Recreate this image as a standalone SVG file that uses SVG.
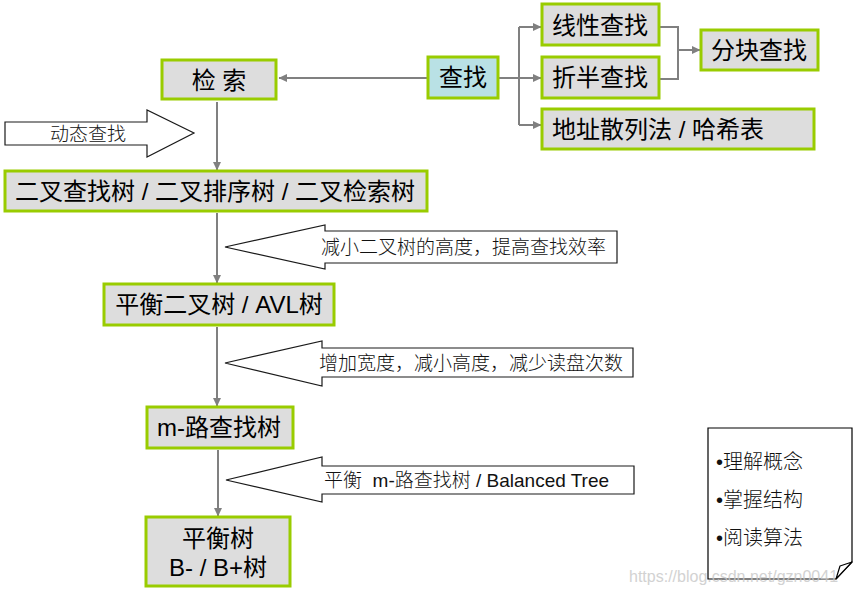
<svg xmlns="http://www.w3.org/2000/svg" width="853" height="594" viewBox="0 0 853 594">
<style>
.box{fill:#dddddd;stroke:#99cc00;stroke-width:3}
.cyan{fill:#b9e1e5}
.t{font-family:"Liberation Sans","Noto Sans CJK SC",sans-serif;font-size:24px;fill:#000;dominant-baseline:central}
.c{text-anchor:middle}
.lbl{font-family:"Liberation Sans","Noto Sans CJK SC",sans-serif;font-size:19px;font-weight:300;fill:#111;dominant-baseline:central}
.big{fill:#fff;stroke:#1a1a1a;stroke-width:1.2}
.conn{fill:none;stroke:#808080;stroke-width:2}
.note{fill:#fff;stroke:#000;stroke-width:1.2}
.nt{font-family:"Liberation Sans","Noto Sans CJK SC",sans-serif;font-size:20px;font-weight:300;fill:#111;dominant-baseline:central}
.wm{font-family:"Liberation Sans",sans-serif;font-size:16px;fill:#c8c8c8;opacity:0.8;dominant-baseline:central}
</style>
<defs>
<marker id="ah" markerUnits="userSpaceOnUse" markerWidth="9" markerHeight="9" refX="8" refY="4.5" orient="auto">
<path d="M0,0.5 L8.5,4.5 L0,8.5 Z" fill="#808080"/>
</marker>
</defs>
<rect width="853" height="594" fill="#fff"/>

<g id="connectors">
<line class="conn" x1="428" y1="78" x2="279" y2="78" marker-end="url(#ah)"/>
<polyline class="conn" points="498,78 519,78"/>
<polyline class="conn" points="519,27 519,125"/>
<line class="conn" x1="519" y1="27" x2="541" y2="27" marker-end="url(#ah)"/>
<line class="conn" x1="519" y1="78" x2="541" y2="78" marker-end="url(#ah)"/>
<line class="conn" x1="519" y1="125" x2="541" y2="125" marker-end="url(#ah)"/>
<polyline class="conn" points="659,27 678,27 678,79 659,79"/>
<line class="conn" x1="678" y1="50" x2="700" y2="50" marker-end="url(#ah)"/>
<line class="conn" x1="217" y1="102" x2="217" y2="170" marker-end="url(#ah)"/>
<line class="conn" x1="217" y1="213" x2="217" y2="283" marker-end="url(#ah)"/>
<line class="conn" x1="217" y1="327" x2="217" y2="406" marker-end="url(#ah)"/>
<line class="conn" x1="218" y1="450" x2="218" y2="516" marker-end="url(#ah)"/>
</g>

<g id="arrow-dynamic">
<polygon class="big" points="5,122 147,122 147,110 194,133 147,157 147,145 5,145"/>
<text class="lbl" x="50" y="134">动态查找</text>
</g>
<g id="arrow-reduce">
<polygon class="big" points="617,231 325,231 325,225 225,247 325,269 325,263 617,263"/>
<text class="lbl" x="321" y="247">减小二叉树的高度，提高查找效率</text>
</g>
<g id="arrow-widen">
<polygon class="big" points="633,348 322,348 322,341 225,363 322,386 322,377 633,377"/>
<text class="lbl" x="319" y="363">增加宽度，减小高度，减少读盘次数</text>
</g>
<g id="arrow-balanced">
<polygon class="big" points="634,466 322,466 322,457 226,480 322,502 322,494 634,494"/>
<text class="lbl" x="324" y="480">平衡&#160; m-路查找树 / Balanced Tree</text>
</g>

<g id="n-jiansuo">
<rect class="box" x="162" y="60" width="114" height="39"/>
<text class="t c" x="219" y="80">检 索</text>
</g>
<g id="n-chazhao">
<rect class="box cyan" x="428" y="57" width="70" height="41"/>
<text class="t c" x="463" y="77">查找</text>
</g>
<g id="n-xianxing">
<rect class="box" x="542" y="4" width="117" height="41"/>
<text class="t c" x="600" y="25">线性查找</text>
</g>
<g id="n-zheban">
<rect class="box" x="542" y="57" width="117" height="41"/>
<text class="t c" x="600" y="77">折半查找</text>
</g>
<g id="n-fenkuai">
<rect class="box" x="701" y="30" width="117" height="40"/>
<text class="t c" x="759" y="50">分块查找</text>
</g>
<g id="n-hash">
<rect class="box" x="542" y="109" width="272" height="40"/>
<text class="t" x="552" y="129">地址散列法 / 哈希表</text>
</g>
<g id="n-bst">
<rect class="box" x="5" y="171" width="422" height="40"/>
<text class="t c" x="215" y="191">二叉查找树 / 二叉排序树 / 二叉检索树</text>
</g>
<g id="n-avl">
<rect class="box" x="104" y="284" width="230" height="41"/>
<text class="t c" x="219" y="304">平衡二叉树 / AVL树</text>
</g>
<g id="n-mway">
<rect class="box" x="147" y="407" width="146" height="41"/>
<text class="t c" x="219" y="427">m-路查找树</text>
</g>
<g id="n-btree">
<rect class="box" x="146" y="517" width="144" height="69"/>
<text class="t c" x="218" y="538">平衡树</text>
<text class="t c" x="218" y="567">B- / B+树</text>
</g>

<g id="note">
<path class="note" d="M708,428 H852 V562 L836,579 H708 Z"/>
<path d="M852,562 L840,566 L836,579 Z" fill="#fff" stroke="#000" stroke-width="1.2" stroke-linejoin="round"/>
<text class="nt" x="716" y="462">•理解概念</text>
<text class="nt" x="716" y="500">•掌握结构</text>
<text class="nt" x="716" y="538">•阅读算法</text>
</g>
<text class="wm" x="629" y="576">https://blog.csdn.net/gzn0041</text>
</svg>
